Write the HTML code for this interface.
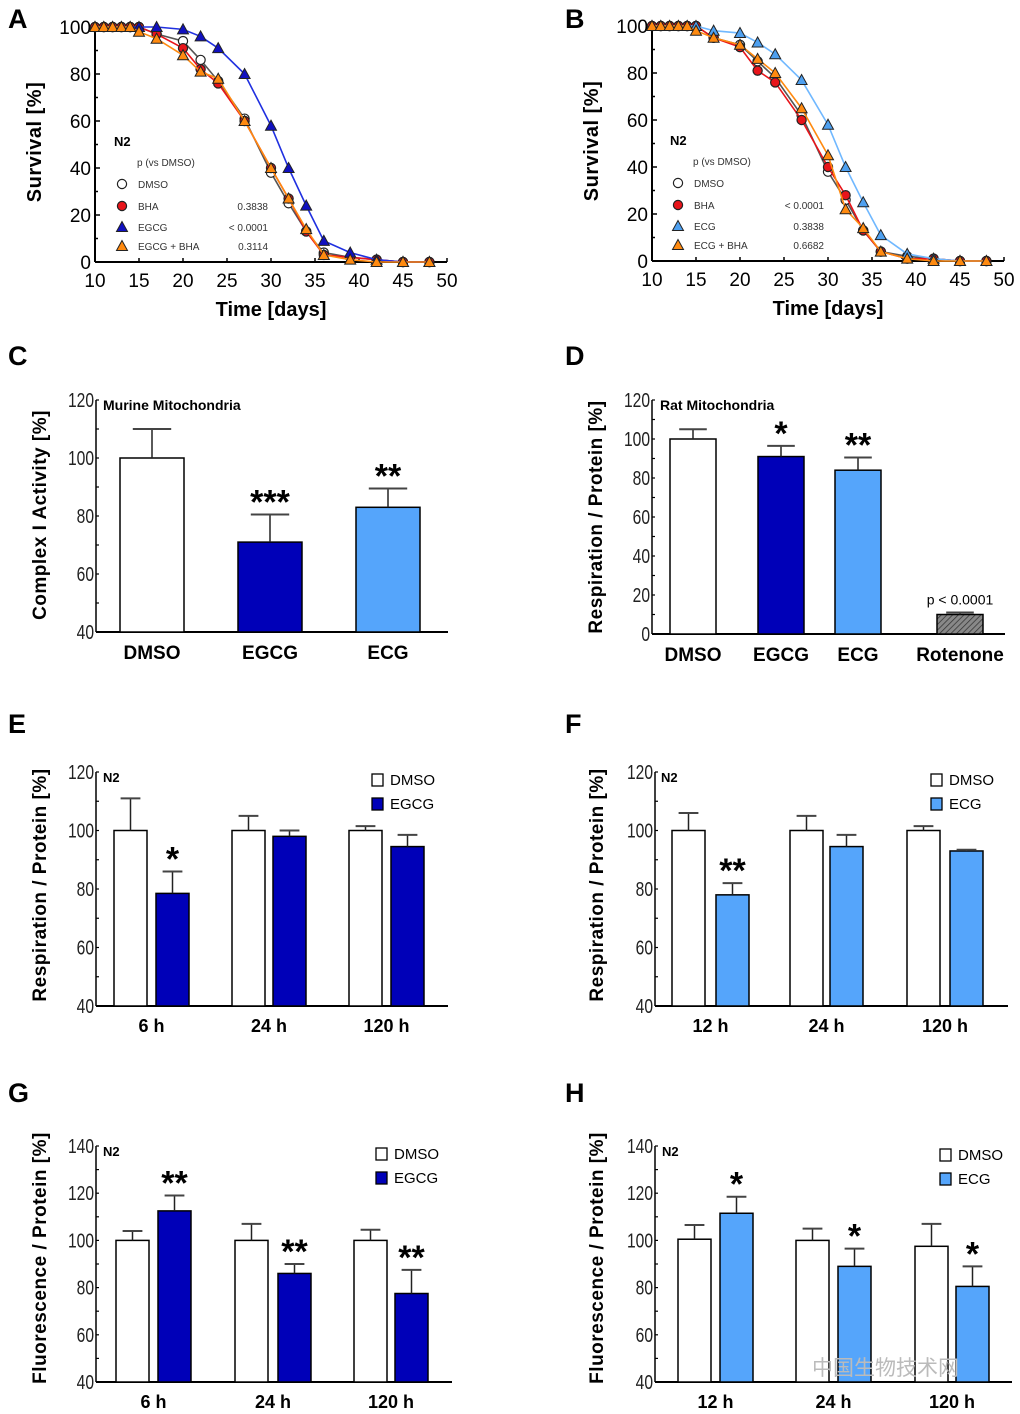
<!DOCTYPE html>
<html><head><meta charset="utf-8">
<style>
html,body{margin:0;padding:0;background:#fff;}
svg{display:block;font-family:"Liberation Sans",Arial,sans-serif;}
</style></head>
<body>
<svg id="fig" width="1020" height="1414" viewBox="0 0 1020 1414" xmlns="http://www.w3.org/2000/svg">
<defs><pattern id="hatch" width="4" height="4" patternUnits="userSpaceOnUse" patternTransform="rotate(45)"><rect width="4" height="4" fill="#888"/><line x1="0" y1="0" x2="0" y2="4" stroke="#333" stroke-width="1.5"/></pattern></defs>
</svg>
<script>
// ---------- Survival data ----------
const survDays = [10,11,12,13,14,15,17,20,22,24,27,30,32,34,36,39,42,45,48];
const aDMSO = [100,100,100,100,100,100,97,94,86,77,61,38,25,13,4,2,1,0,0];
const aBHA  = [100,100,100,100,100,100,97,91,82,76,60,40,27,13,3,2,1,0,0];
const aEGCG = [100,100,100,100,100,100,100,99,96,91,80,58,40,24,9,4,1,0,0];
const aEGCGBHA = [100,100,100,100,100,98,95,88,81,78,60,40,27,14,3,1,0,0,0];
const bDMSO = [100,100,100,100,100,100,95,92,85,78,62,38,26,13,4,2,1,0,0];
const bBHA  = [100,100,100,100,100,100,95,91,81,76,60,40,28,13,4,1,1,0,0];
const bECG  = [100,100,100,100,100,100,98,97,93,88,77,58,40,25,11,3,1,0,0];
const bECGBHA = [100,100,100,100,100,98,95,92,86,80,65,45,22,14,4,1,0,0,0];
const survXTicks = [10,15,20,25,30,35,40,45,50];
const survYTicks = [0,20,40,60,80,100];
const aPvals = ["0.3838","< 0.0001","0.3114"];
const bPvals = ["< 0.0001","0.3838","0.6682"];

// ---------- Bar data ----------
const cCats = ["DMSO","EGCG","ECG"];
const cVals = [100,71,83];
const cErr  = [10,9.5,6.5];
const cStars = ["","***","**"];
const dCats = ["DMSO","EGCG","ECG","Rotenone"];
const dVals = [100,91,84,10];
const dErr  = [5,5.5,6.5,1];
const dStars = ["","*","**","p < 0.0001"];
const eCats = ["6 h","24 h","120 h"];
const eCtrl = [100,100,100];
const eCtrlErr = [11,5,1.5];
const eTrt = [78.5,98,94.5];
const eTrtErr = [7.5,2,4];
const eStars = ["*","",""];
const fCats = ["12 h","24 h","120 h"];
const fCtrl = [100,100,100];
const fCtrlErr = [6,5,1.5];
const fTrt = [78,94.5,93];
const fTrtErr = [4,4,0.4];
const fStars = ["**","",""];
const gCats = ["6 h","24 h","120 h"];
const gCtrl = [100,100,100];
const gCtrlErr = [4,7,4.5];
const gTrt = [112.5,86,77.5];
const gTrtErr = [6.5,4,10];
const gStars = ["**","**","**"];
const hCats = ["12 h","24 h","120 h"];
const hCtrl = [100.5,100,97.5];
const hCtrlErr = [6,5,9.5];
const hTrt = [111.5,89,80.5];
const hTrtErr = [7,7.5,8.5];
const hStars = ["*","*","*"];

const NS="http://www.w3.org/2000/svg";
const svg=document.getElementById('fig');
function el(tag,attrs,parent,text){
  const e=document.createElementNS(NS,tag);
  for(const k in attrs) e.setAttribute(k,attrs[k]);
  if(text!==undefined) e.textContent=text;
  (parent||svg).appendChild(e);
  return e;
}
const DARK="#0000b8", LIGHT="#55a5fb", RED="#e8141a", ORANGE="#ff8a10";

function letter(t,x,y){
  const e=el('text',{x:x,y:y,'font-size':27,'font-weight':'bold'},svg,t);
  
  
}
function yTitle(t,x,y,parent,size){
  const e=el('text',{x:0,y:0,'font-size':size||19,'font-weight':'bold','text-anchor':'middle',transform:`translate(${x},${y}) rotate(-90)`,'letter-spacing':'0.5'},parent,t);
  
  
}

function marker(g,type,x,y,fill){
  let m;
  if(type==='circle') m=el('circle',{cx:x,cy:y,r:4.6,fill:fill,stroke:'#222','stroke-width':1.2},g);
  else m=el('polygon',{points:`${x},${y-5.5} ${x-5.5},${y+4.5} ${x+5.5},${y+4.5}`,fill:fill,stroke:'#222','stroke-width':1},g);
  
  
}

function survival(ox,oy,name,series,legendNames,pvals,legX){
  const g=el('g',{});
  
  
  const x0=ox, x1=ox+352, y0=oy+235, y1=oy;
  const sx=d=>x0+(d-10)/40*(x1-x0);
  const sy=v=>y0-v/100*(y0-y1);
  el('line',{x1:x0,y1:y1,x2:x0,y2:y0,stroke:'#000','stroke-width':2},g);
  el('line',{x1:x0,y1:y0,x2:x1,y2:y0,stroke:'#000','stroke-width':2},g);
  for(let v=0;v<=100;v+=10){el('line',{x1:x0,y1:sy(v),x2:x0+(v%20?3:5),y2:sy(v),stroke:'#000','stroke-width':1.5},g);}
  survYTicks.forEach(v=>{const t=el('text',{x:x0-4,y:sy(v)+7,'font-size':19,'text-anchor':'end'},g,String(v));});
  survXTicks.forEach(v=>{el('line',{x1:sx(v),y1:y0,x2:sx(v),y2:y0-4,stroke:'#000','stroke-width':1.5},g);
    const t=el('text',{x:sx(v),y:y0+25,'font-size':19,'text-anchor':'middle'},g,String(v));});
  const xt=el('text',{x:(x0+x1)/2,y:y0+54,'font-size':20,'font-weight':'bold','text-anchor':'middle'},g,'Time [days]');
  
  yTitle('Survival [%]',ox-54,oy+115,g,20);
  series.forEach(s=>{
    const pts=survDays.map((d,i)=>sx(d)+','+sy(s.vals[i])).join(' ');
    const pl=el('polyline',{points:pts,fill:'none',stroke:s.line,'stroke-width':1.6},g);
    
    survDays.forEach((d,i)=>marker(g,s.type,sx(d),sy(s.vals[i]),s.fill));
  });
  el('text',{x:legX-8,y:oy+119,'font-size':13,'font-weight':'bold'},g,'N2');
  el('text',{x:legX+15,y:oy+139,'font-size':10,fill:'#333'},g,'p (vs DMSO)');
  const rows=[oy+157,oy+179,oy+200,oy+219];
  series.forEach((s,i)=>{
    const lg=el('g',{},g);
    
    marker(lg,s.type,legX,rows[i],s.fill);
    el('text',{x:legX+16,y:rows[i]+4,'font-size':10,fill:'#333'},lg,legendNames[i]);
    if(i>0) el('text',{x:legX+146,y:rows[i]+4,'font-size':10,fill:'#333','text-anchor':'end'},lg,pvals[i-1]);
  });
}

survival(95,27,'survival-chart-a',[
  {vals:aDMSO,type:'circle',fill:'#fff',line:'#555'},
  {vals:aBHA,type:'circle',fill:RED,line:RED},
  {vals:aEGCG,type:'tri',fill:'#1010c0',line:'#2030e0'},
  {vals:aEGCGBHA,type:'tri',fill:ORANGE,line:ORANGE}],
  ['DMSO','BHA','EGCG','EGCG + BHA'],aPvals,122);
survival(652,26,'survival-chart-b',[
  {vals:bDMSO,type:'circle',fill:'#fff',line:'#555'},
  {vals:bBHA,type:'circle',fill:RED,line:RED},
  {vals:bECG,type:'tri',fill:'#4ea0f0',line:'#70b8ff'},
  {vals:bECGBHA,type:'tri',fill:ORANGE,line:ORANGE}],
  ['DMSO','BHA','ECG','ECG + BHA'],bPvals,678);

function barPanel(o){
  const g=el('g',{});
  
  
  const sy=v=>o.yb-(v-o.ymin)/(o.ymax-o.ymin)*(o.yb-o.yt);
  el('line',{x1:o.ax,y1:o.yt,x2:o.ax,y2:o.yb,stroke:'#000','stroke-width':1.5},g);
  el('line',{x1:o.ax,y1:o.yb,x2:o.axEnd,y2:o.yb,stroke:'#000','stroke-width':2},g);
  for(let v=o.ymin;v<=o.ymax;v+=o.minor){el('line',{x1:o.ax,y1:sy(v),x2:o.ax+3,y2:sy(v),stroke:'#000','stroke-width':1.2},g);}
  o.ticks.forEach(v=>{const t=el('text',{x:o.ax-2,y:sy(v)+7,'font-size':20,'text-anchor':'end',fill:'#222'},g,String(v));
    t.setAttribute('transform',`translate(${(o.ax-2)*0.22},0) scale(0.78,1)`);
    });
  yTitle(o.ytitle,o.ytx,o.yty,g,19);
  if(o.note){el('text',{x:o.noteX,y:o.yt+10,'font-size':o.noteSize||14,'font-weight':'bold'},g,o.note);}
  o.bars.forEach(b=>{
    const top=sy(b.v), w=b.x1-b.x0, cx=(b.x0+b.x1)/2;
    const r=el('rect',{x:b.x0,y:top,width:w,height:o.yb-top,fill:b.fill,stroke:'#000','stroke-width':1.5},g);
    
    if(b.e!==undefined){
      const et=sy(b.v+b.e);
      el('line',{x1:cx,y1:top,x2:cx,y2:et,stroke:'#222','stroke-width':1.5},g);
      el('line',{x1:cx-w*0.3,y1:et,x2:cx+w*0.3,y2:et,stroke:'#444','stroke-width':2},g);
      if(b.star){
        const st=b.star.startsWith('p')?
          el('text',{x:cx,y:et-8,'font-size':14,'text-anchor':'middle'},g,b.star):
          el('text',{x:cx,y:et-1,'font-size':34,'text-anchor':'middle','font-weight':'bold'},g,b.star);
        
      }
    }
  });
  o.cats.forEach((c,i)=>{const t=el('text',{x:o.catX[i],y:o.catY,'font-size':o.catSize||19,'text-anchor':'middle','font-weight':o.catBold?'bold':'normal'},g,c);
    });
  if(o.legend){
    o.legend.forEach((l,i)=>{
      const lg=el('g',{},g);
      
      el('rect',{x:o.legX,y:o.legY+i*24-11,width:11,height:12,fill:l.fill,stroke:'#000','stroke-width':1.3},lg);
      el('text',{x:o.legX+18,y:o.legY+i*24,'font-size':15},lg,l.t);
    });
  }
}

letter('A',8,28);letter('B',565,28);letter('C',8,365);letter('D',565,365);
letter('E',8,733);letter('F',565,733);letter('G',8,1102);letter('H',565,1102);

const cX=[[120,184],[238,302],[356,420]];
barPanel({name:'bar-chart-c',ax:96,axEnd:448,yt:400,yb:632,ymin:40,ymax:120,minor:10,ticks:[40,60,80,100,120],
  ytitle:'Complex I Activity [%]',ytx:46,yty:515,note:'Murine Mitochondria',noteX:103,noteSize:14,
  bars:cCats.map((c,i)=>({x0:cX[i][0],x1:cX[i][1],v:cVals[i],e:cErr[i],fill:[ '#fff',DARK,LIGHT][i],star:cStars[i],name:'bar-'+c.toLowerCase()})),
  cats:cCats,catX:cX.map(p=>(p[0]+p[1])/2),catY:659,catBold:true});
const dX=[[670,716],[758,804],[835,881],[937,983]];
barPanel({name:'bar-chart-d',ax:652,axEnd:1005,yt:400,yb:634,ymin:0,ymax:120,minor:10,ticks:[0,20,40,60,80,100,120],
  ytitle:'Respiration / Protein [%]',ytx:602,yty:517,note:'Rat Mitochondria',noteX:660,noteSize:14,
  bars:dCats.map((c,i)=>({x0:dX[i][0],x1:dX[i][1],v:dVals[i],e:dErr[i],fill:['#fff',DARK,LIGHT,'url(#hatch)'][i],star:dStars[i],name:'bar-'+c.toLowerCase()})),
  cats:dCats,catX:dX.map(p=>(p[0]+p[1])/2),catY:661,catBold:true});

function pairBars(cats,ctrl,ctrlE,trt,trtE,stars,pos,fill){
  const out=[];
  cats.forEach((c,i)=>{
    out.push({x0:pos[i][0],x1:pos[i][0]+33,v:ctrl[i],e:ctrlE[i],fill:'#fff',name:'bar-dmso-'+c.replace(' ','')});
    out.push({x0:pos[i][1],x1:pos[i][1]+33,v:trt[i],e:trtE[i],fill:fill,star:stars[i],name:'bar-treated-'+c.replace(' ','')});
  });
  return out;
}
const ePos=[[114,156],[232,273],[349,391]];
barPanel({name:'bar-chart-e',ax:96,axEnd:448,yt:772,yb:1006,ymin:40,ymax:120,minor:10,ticks:[40,60,80,100,120],
  ytitle:'Respiration / Protein [%]',ytx:46,yty:885,note:'N2',noteX:103,noteSize:13,
  bars:pairBars(eCats,eCtrl,eCtrlErr,eTrt,eTrtErr,eStars,ePos,DARK),
  cats:eCats,catX:ePos.map(p=>(p[0]+p[1]+33)/2),catY:1032,catBold:true,catSize:18,
  legend:[{fill:'#fff',t:'DMSO'},{fill:DARK,t:'EGCG'}],legX:372,legY:785});
const fPos=[[672,716],[790,830],[907,950]];
barPanel({name:'bar-chart-f',ax:655,axEnd:1008,yt:772,yb:1006,ymin:40,ymax:120,minor:10,ticks:[40,60,80,100,120],
  ytitle:'Respiration / Protein [%]',ytx:603,yty:885,note:'N2',noteX:661,noteSize:13,
  bars:pairBars(fCats,fCtrl,fCtrlErr,fTrt,fTrtErr,fStars,fPos,LIGHT),
  cats:fCats,catX:fPos.map(p=>(p[0]+p[1]+33)/2),catY:1032,catBold:true,catSize:18,
  legend:[{fill:'#fff',t:'DMSO'},{fill:LIGHT,t:'ECG'}],legX:931,legY:785});
const gPos=[[116,158],[235,278],[354,395]];
barPanel({name:'bar-chart-g',ax:96,axEnd:452,yt:1146,yb:1382,ymin:40,ymax:140,minor:10,ticks:[40,60,80,100,120,140],
  ytitle:'Fluorescence / Protein [%]',ytx:46,yty:1258,note:'N2',noteX:103,noteSize:13,
  bars:pairBars(gCats,gCtrl,gCtrlErr,gTrt,gTrtErr,gStars,gPos,DARK),
  cats:gCats,catX:gPos.map(p=>(p[0]+p[1]+33)/2),catY:1408,catBold:true,catSize:18,
  legend:[{fill:'#fff',t:'DMSO'},{fill:DARK,t:'EGCG'}],legX:376,legY:1159});
const hPos=[[678,720],[796,838],[915,956]];
barPanel({name:'bar-chart-h',ax:655,axEnd:1012,yt:1146,yb:1382,ymin:40,ymax:140,minor:10,ticks:[40,60,80,100,120,140],
  ytitle:'Fluorescence / Protein [%]',ytx:603,yty:1258,note:'N2',noteX:662,noteSize:13,
  bars:pairBars(hCats,hCtrl,hCtrlErr,hTrt,hTrtErr,hStars,hPos,LIGHT),
  cats:hCats,catX:hPos.map(p=>(p[0]+p[1]+33)/2),catY:1408,catBold:true,catSize:18,
  legend:[{fill:'#fff',t:'DMSO'},{fill:LIGHT,t:'ECG'}],legX:940,legY:1160});

const wm=el('text',{x:812,y:1375,'font-size':21,fill:'#bbb','font-family':'"Liberation Sans","Noto Sans CJK SC",sans-serif'},svg,'中国生物技术网');


</script>
</body></html>
